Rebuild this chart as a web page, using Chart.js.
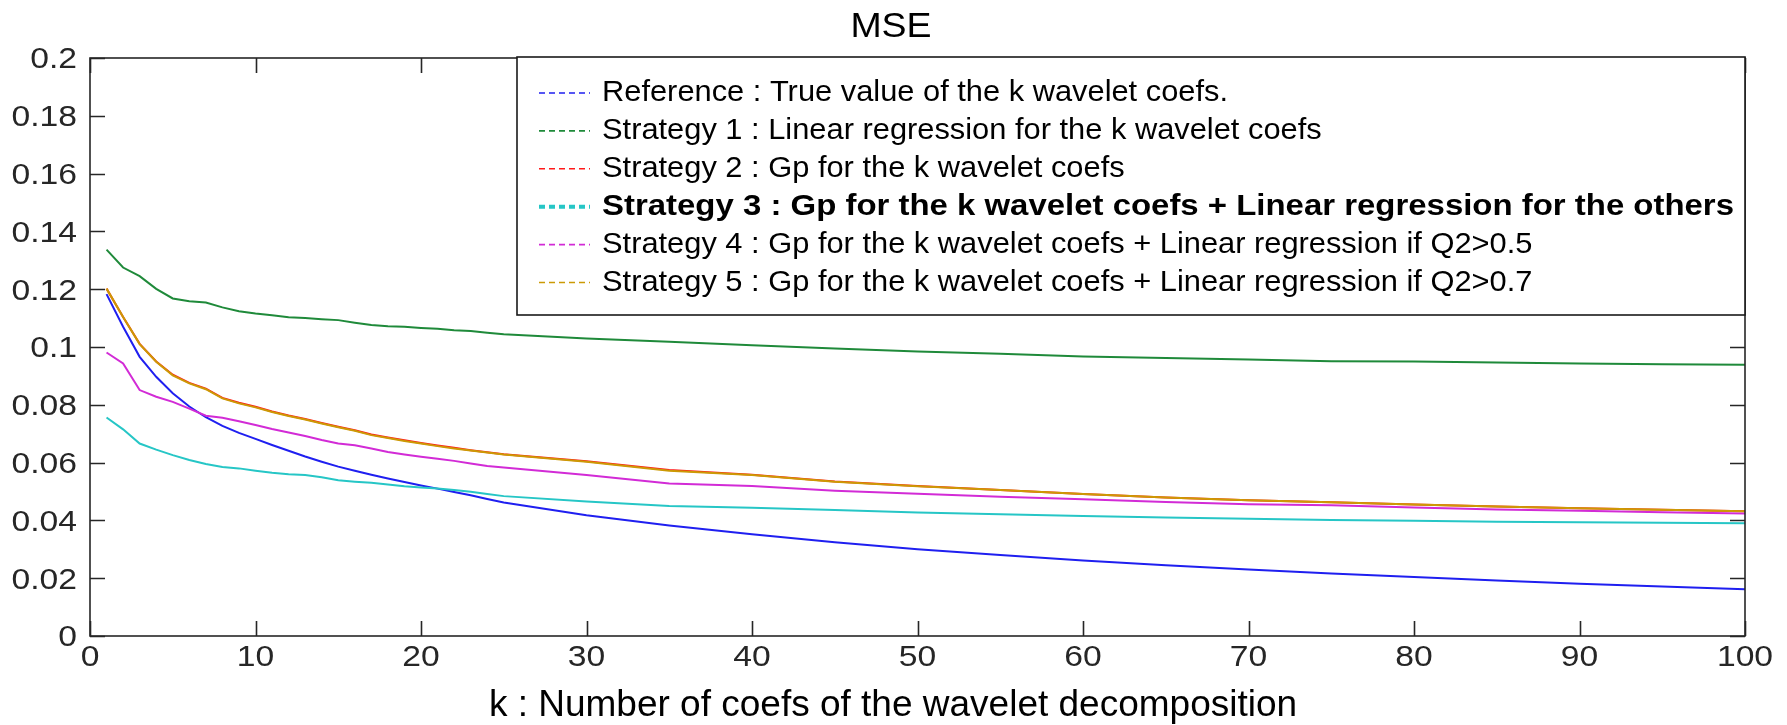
<!DOCTYPE html>
<html>
<head>
<meta charset="utf-8">
<script src="https://cdn.jsdelivr.net/npm/chart.js@4.4.1/dist/chart.umd.min.js"></script>
<style>
  html, body { margin: 0; padding: 0; background: #ffffff; }
  #wrap { width: 1787px; height: 725px; position: relative; }
</style>
</head>
<body>
<div id="wrap"><canvas id="c" width="1787" height="725"></canvas></div>
<script>
// ---- data ----
const kValues = [1,2,3,4,5,6,7,8,9,10,11,12,13,14,15,16,17,18,19,20,21,22,23,24,25,
                 30,35,40,45,50,55,60,65,70,75,80,85,90,95,100];

const refMSE = [0.1183,0.1070,0.0966,0.0897,0.0840,0.0794,0.0757,0.0727,0.0703,0.0682,
                0.0661,0.0641,0.0621,0.0603,0.0586,0.0572,0.0558,0.0545,0.0533,0.0521,
                0.0510,0.0498,0.0487,0.0474,0.0462,
                0.0418,0.0382,0.0352,0.0324,0.0300,0.0280,0.0261,0.0245,0.0230,0.0216,
                0.0204,0.0192,0.0181,0.0171,0.0162];

const s1MSE = [0.1337,0.1275,0.1245,0.1201,0.1168,0.1158,0.1154,0.1137,0.1124,0.1116,
               0.1110,0.1103,0.1100,0.1096,0.1093,0.1084,0.1076,0.1072,0.1070,0.1066,
               0.1063,0.1058,0.1055,0.1049,0.1044,
               0.1029,0.1018,0.1006,0.0995,0.0984,0.0977,0.0967,0.0962,0.0957,0.0951,
               0.0950,0.0946,0.0943,0.0940,0.0939];

const s2MSE = [0.1202,0.1104,0.1011,0.0950,0.0904,0.0876,0.0856,0.0824,0.0807,0.0793,
               0.0777,0.0763,0.0751,0.0737,0.0724,0.0712,0.0697,0.0687,0.0677,0.0668,
               0.0659,0.0651,0.0643,0.0636,0.0629,
               0.0605,0.0574,0.0558,0.0535,0.0519,0.0505,0.0491,0.0479,0.0470,0.0463,
               0.0455,0.0448,0.0442,0.0437,0.0432];

const s3MSE = [0.0756,0.0715,0.0666,0.0645,0.0626,0.0609,0.0595,0.0585,0.0580,0.0572,
               0.0565,0.0560,0.0557,0.0549,0.0539,0.0534,0.0530,0.0524,0.0518,0.0514,
               0.0510,0.0505,0.0499,0.0491,0.0484,
               0.0465,0.0450,0.0444,0.0436,0.0427,0.0421,0.0415,0.0410,0.0406,0.0401,
               0.0399,0.0395,0.0394,0.0392,0.0390];

const s4MSE = [0.0981,0.0943,0.0851,0.0828,0.0810,0.0787,0.0762,0.0755,0.0743,0.0730,
               0.0716,0.0704,0.0692,0.0678,0.0666,0.0660,0.0649,0.0637,0.0628,0.0620,
               0.0613,0.0606,0.0597,0.0588,0.0583,
               0.0557,0.0528,0.0519,0.0503,0.0492,0.0482,0.0473,0.0464,0.0456,0.0452,
               0.0445,0.0438,0.0433,0.0428,0.0424];

const s5MSE = [0.1202,0.1104,0.1010,0.0949,0.0902,0.0874,0.0854,0.0822,0.0805,0.0791,
               0.0775,0.0761,0.0749,0.0735,0.0722,0.0710,0.0695,0.0685,0.0675,0.0666,
               0.0657,0.0649,0.0642,0.0635,0.0628,
               0.0603,0.0572,0.0557,0.0534,0.0518,0.0505,0.0491,0.0479,0.0470,0.0463,
               0.0455,0.0448,0.0442,0.0437,0.0432];

const seriesLabels = [
  "Reference : True value of the k wavelet coefs.",
  "Strategy 1 : Linear regression for the k wavelet coefs",
  "Strategy 2 : Gp for the k wavelet coefs",
  "Strategy 3 : Gp for the k wavelet coefs + Linear regression for the others",
  "Strategy 4 : Gp for the k wavelet coefs + Linear regression if Q2>0.5",
  "Strategy 5 : Gp for the k wavelet coefs + Linear regression if Q2>0.7"
];
const seriesColors = ["#1f1ff0", "#1f8a3a", "#ff1a1a", "#26c6c6", "#d22bd6", "#cc9a05"];
const seriesValues = [refMSE, s1MSE, s2MSE, s3MSE, s4MSE, s5MSE];
const boldIndex = 3;

const chartTitle = "MSE";
const xAxisTitle = "k : Number of coefs of the wavelet decomposition";

// ---- chart ----
const FONT = "'Liberation Sans', Arial, Helvetica, sans-serif";
const AXIS_COLOR = "#262626";

const datasets = seriesValues.map((vals, i) => ({
  label: seriesLabels[i],
  data: kValues.map((k, j) => ({ x: k, y: vals[j] })),
  borderColor: seriesColors[i],
  backgroundColor: seriesColors[i],
  borderWidth: 2,
  pointRadius: 0,
  tension: 0,
  fill: false,
  order: seriesValues.length - i
}));

// draw text stretched horizontally around its anchor
function stretchedText(ctx, text, x, y, sx, align) {
  ctx.save();
  ctx.translate(x, y);
  ctx.scale(sx, 1);
  ctx.textAlign = align;
  ctx.fillText(text, 0, 0);
  ctx.restore();
}

const framePlugin = {
  id: 'frame',
  afterDatasetsDraw(chart) {
    const { ctx, chartArea: a, scales } = chart;
    const x = scales.x, y = scales.y;
    ctx.save();
    ctx.strokeStyle = AXIS_COLOR;
    ctx.lineWidth = 1.6;
    ctx.beginPath();
    const tl = 15;
    x.ticks.forEach(t => {
      const px = Math.round(x.getPixelForValue(t.value)) + 0.5;
      ctx.moveTo(px, a.bottom); ctx.lineTo(px, a.bottom - tl);
      ctx.moveTo(px, a.top); ctx.lineTo(px, a.top + tl);
    });
    y.ticks.forEach(t => {
      const py = Math.round(y.getPixelForValue(t.value)) + 0.5;
      ctx.moveTo(a.left, py); ctx.lineTo(a.left + tl, py);
      ctx.moveTo(a.right, py); ctx.lineTo(a.right - tl, py);
    });
    ctx.stroke();
    ctx.strokeRect(a.left, a.top, a.right - a.left, a.bottom - a.top);

    // tick labels taken from the library's scales
    ctx.fillStyle = AXIS_COLOR;
    ctx.font = "29px " + FONT;
    ctx.textBaseline = "alphabetic";
    const sxT = 1.16;
    x.ticks.forEach(t => {
      const px = x.getPixelForValue(t.value);
      stretchedText(ctx, String(t.label), px, 666, sxT, "center");
    });
    y.ticks.forEach(t => {
      const py = y.getPixelForValue(t.value);
      stretchedText(ctx, String(t.label), a.left - 13, py + 10.4, sxT, "right");
    });
    ctx.restore();
  },
  afterDraw(chart) {
    const { ctx, chartArea: a } = chart;
    ctx.save();
    // titles
    ctx.fillStyle = "#000000";
    ctx.textBaseline = "alphabetic";
    ctx.font = "35px " + FONT;
    stretchedText(ctx, chartTitle, 891, 37, 1.07, "center");
    ctx.font = "37px " + FONT;
    stretchedText(ctx, xAxisTitle, 893, 716, 1.0, "center");

    // legend box
    const bx = 517, by = 57, bw = a.right - 517, bh = 258;
    ctx.fillStyle = "#ffffff";
    ctx.fillRect(bx, by, bw, bh);
    ctx.strokeStyle = "#1a1a1a";
    ctx.lineWidth = 1.6;
    ctx.strokeRect(bx, by, bw, bh);

    const rowY0 = 93, rowStep = 37.9, textX = 602;
    // horizontal stretch of the legend font, matched to the reference widths
    ctx.font = "30px " + FONT;
    const sxReg = 626 / ctx.measureText(seriesLabels[0]).width;
    ctx.font = "bold 30px " + FONT;
    const sxBold = 1132 / ctx.measureText(seriesLabels[boldIndex]).width;

    chart.data.datasets.forEach((ds, i) => {
      const ry = rowY0 + i * rowStep;
      ctx.save();
      ctx.strokeStyle = ds.borderColor;
      ctx.lineWidth = (i === boldIndex) ? 4 : 1.6;
      ctx.setLineDash([6, 4]);
      ctx.beginPath();
      ctx.moveTo(539, ry);
      ctx.lineTo(590, ry);
      ctx.stroke();
      ctx.restore();
      ctx.fillStyle = "#000000";
      ctx.textBaseline = "middle";
      const bold = i === boldIndex;
      ctx.font = (bold ? "bold " : "") + "30px " + FONT;
      stretchedText(ctx, ds.label, textX, ry, bold ? sxBold : sxReg, "left");
    });
    ctx.restore();
  }
};

new Chart(document.getElementById('c'), {
  type: 'line',
  data: { datasets },
  options: {
    responsive: false,
    animation: false,
    devicePixelRatio: 1,
    layout: { padding: { top: 58, right: 42, left: 0, bottom: 0 } },
    plugins: { legend: { display: false }, title: { display: false }, tooltip: { enabled: false } },
    scales: {
      x: {
        type: 'linear',
        min: 0, max: 100,
        grid: { display: false },
        border: { display: false },
        ticks: {
          display: false,
          stepSize: 10,
          autoSkip: false,
          callback: v => String(v)
        },
        afterFit(scale) { scale.height = 89; scale.paddingLeft = 0; scale.paddingRight = 0; }
      },
      y: {
        min: 0, max: 0.2,
        grid: { display: false },
        border: { display: false },
        ticks: {
          display: false,
          stepSize: 0.02,
          autoSkip: false,
          callback: v => String(+v.toFixed(2))
        },
        afterFit(scale) { scale.width = 90; scale.paddingTop = 0; scale.paddingBottom = 0; }
      }
    }
  },
  plugins: [framePlugin]
});
</script>
</body>
</html>
